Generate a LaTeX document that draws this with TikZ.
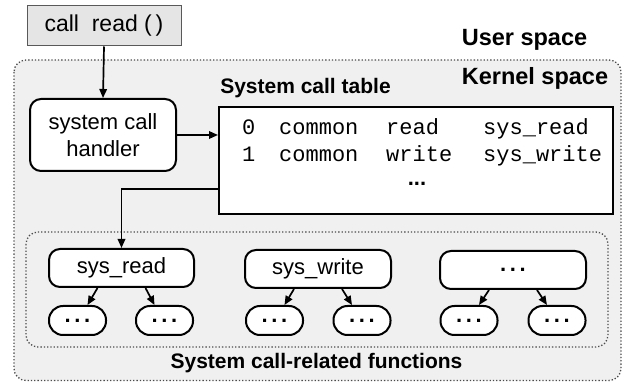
\documentclass[tikz,border=0pt]{standalone}
\usepackage{fontspec}
\setmainfont{Liberation Sans}
\setmonofont{Liberation Mono}
\usetikzlibrary{arrows.meta}
\begin{document}
\begin{tikzpicture}[x=1pt,y=-1pt,
  font=\fontsize{22}{26}\selectfont,
  arr/.style={line width=1.7pt,-{Triangle[length=9pt,width=7.5pt]}},
  dotbox/.style={draw=black!70,line width=1.3pt,dotted,rounded corners=12pt},
  rbox/.style={draw=black,line width=2pt,fill=white,rounded corners=11pt,inner sep=0pt},
  kid/.style={draw=black,line width=2pt,fill=white,rounded corners=14pt,inner sep=0pt,minimum width=57pt,minimum height=29pt},
  lbl/.style={font=\fontsize{23.5}{26}\selectfont\bfseries,inner sep=0pt},
  slbl/.style={font=\fontsize{21}{24}\selectfont\bfseries,inner sep=0pt},
  tt/.style={font=\fontsize{22}{26}\selectfont\ttfamily,inner sep=0pt,anchor=base west}]
\useasboundingbox (0,0) rectangle (627,382);
% outer kernel box
\draw[dotbox,fill=black!6] (14,60) rectangle (621,380.5);
% inner box
\draw[dotbox] (26,232) rectangle (608,347);
% user call
\node[draw=black!65,line width=1pt,fill=black!10,minimum width=154pt,minimum height=40pt,inner sep=0pt,font=\fontsize{23}{26}\selectfont] (call) at (104,26) {call\ \ read (\,)};
\node[lbl] (user) at (524.5,40) {User space};
\node[lbl] (kernel) at (535,78) {Kernel space};
% handler
\node[rbox,minimum width=146pt,minimum height=72pt,align=center,font=\fontsize{22}{27}\selectfont] (handler) at (103,135) {system call\\handler};
% table
\node[draw=black,line width=2pt,fill=white,minimum width=394pt,minimum height=107pt,inner sep=0pt] (table) at (416,160.5) {};
\node[slbl] (tlabel) at (305.5,88) {System call table};
\node[tt] (r0a) at (242,135) {0};
\node[tt] (r0b) at (279,135) {common};
\node[tt] (r0c) at (386,135) {read};
\node[tt] (r0d) at (483,135) {sys\_read};
\node[tt] (r1a) at (242,162) {1};
\node[tt] (r1b) at (279,162) {common};
\node[tt] (r1c) at (386,162) {write};
\node[tt] (r1d) at (483,162) {sys\_write};
\node[font=\fontsize{22}{26}\selectfont\bfseries,inner sep=0pt] (tdots) at (417,184) {...};
% functions
\node[rbox,minimum width=145pt,minimum height=38pt] (sread) at (121.5,268) {sys\_read};
\node[rbox,minimum width=146pt,minimum height=38pt] (swrite) at (318,269) {sys\_write};
\node[rbox,minimum width=146pt,minimum height=38pt] (sdots) at (513,270) {\textbf{.\,.\,.}};
\node[kid] (r1) at (77.5,320.5) {\textbf{.\,.\,.}};
\node[kid] (r2) at (164.5,320.5) {\textbf{.\,.\,.}};
\node[kid] (w1) at (274.5,320.5) {\textbf{.\,.\,.}};
\node[kid] (w2) at (362,320.5) {\textbf{.\,.\,.}};
\node[kid] (d1) at (469,320.5) {\textbf{.\,.\,.}};
\node[kid] (d2) at (557,320.5) {\textbf{.\,.\,.}};
\node[slbl] (flabel) at (316.5,363) {System call-related functions};
% arrows
\draw[arr] (call.south) -- (handler.north);
\draw[arr] (handler.east) -- (handler.east -| table.west);
\draw[arr] (table.west |- 0,189) -| (sread.north);
\foreach \p/\a/\b in {sread/r1/r2,swrite/w1/w2,sdots/d1/d2}{
  \draw[arr] ([xshift=-24pt]\p.south) -- ([xshift=10pt]\a.north);
  \draw[arr] ([xshift=24pt]\p.south) -- ([xshift=-10pt]\b.north);
}
\end{tikzpicture}
\end{document}
